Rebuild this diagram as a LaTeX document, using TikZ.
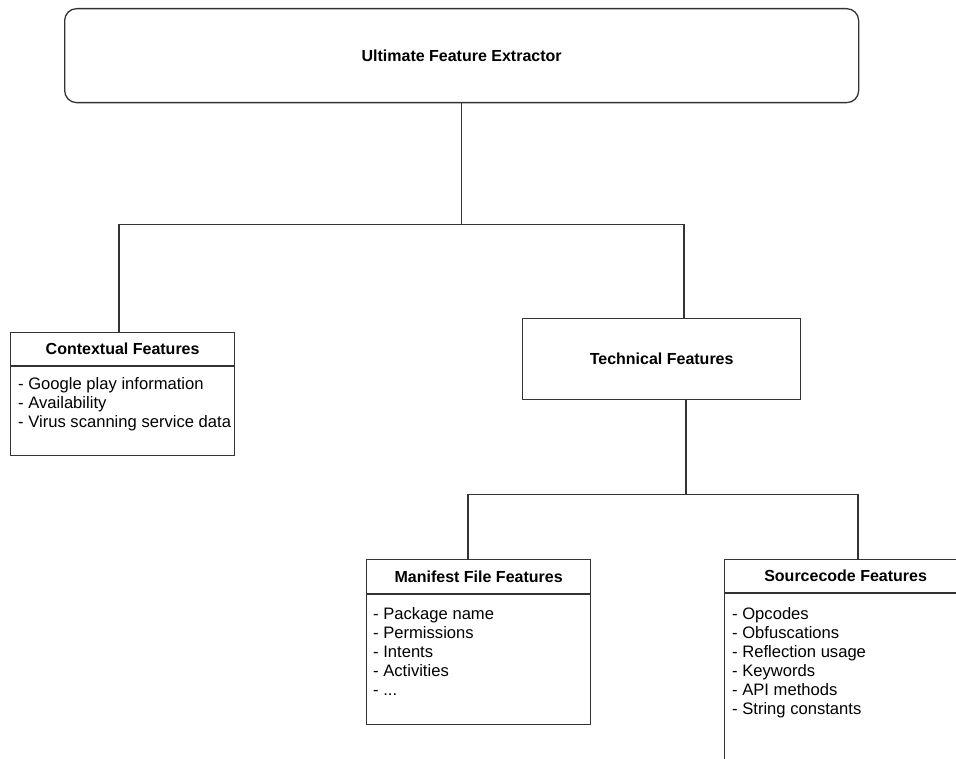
\documentclass[tikz,border=0pt]{standalone}
\usepackage{fontspec}
\setmainfont{Liberation Sans}
\usetikzlibrary{calc}
\tikzset{
  box/.style={draw=black!80, line width=1.3pt, fill=white, inner sep=0pt},
  conn/.style={draw=black!80, line width=1.3pt},
  title/.style={font=\fontsize{16pt}{19pt}\selectfont\bfseries, inner sep=0pt},
  items/.style={font=\fontsize{16.6pt}{19pt}\selectfont, align=left, inner sep=0pt, anchor=north west},
}
\begin{document}
\begin{tikzpicture}[x=1pt,y=1pt]
\useasboundingbox (0,0) rectangle (956,-759);
\clip (0,0) rectangle (956,-759);
\fill[white] (0,0) rectangle (956,-759);

% top box
\node[box, rounded corners=12pt, minimum width=794pt, minimum height=94pt, anchor=north west] (top) at (64,-8) {};
\node[title] (toptxt) at (top.center) {Ultimate Feature Extractor};

% contextual
\node[box, minimum width=224pt, minimum height=123pt, anchor=north west] (ctx) at (10,-332) {};
\draw[conn] ($(ctx.north west)+(0,-34)$) coordinate (ctxh1) -- ($(ctx.north east)+(0,-34)$) coordinate (ctxh2);
\node[title] (ctxt) at ($(ctx.north)+(0,-17)$) {Contextual Features};
\node[items] (ctxl) at (18,-377) {- Google play information\\- Availability\\- Virus scanning service data};

% technical
\node[box, minimum width=278pt, minimum height=81pt, anchor=north west] (tech) at (522,-318) {};
\node[title] (techt) at (tech.center) {Technical Features};

% manifest
\node[box, minimum width=224pt, minimum height=165pt, anchor=north west] (man) at (366,-559) {};
\draw[conn] ($(man.north west)+(0,-35)$) coordinate (manh1) -- ($(man.north east)+(0,-35)$) coordinate (manh2);
\node[title] (mant) at ($(man.north)+(0,-18)$) {Manifest File Features};
\node[items] (manl) at (373,-607) {- Package name\\- Permissions\\- Intents\\- Activities\\- ...};

% sourcecode
\node[box, minimum width=242pt, minimum height=240pt, anchor=north west] (src) at (724,-559) {};
\draw[conn] ($(src.north west)+(0,-34)$) coordinate (srch1) -- ($(src.north east)+(0,-34)$) coordinate (srch2);
\node[title] (srct) at ($(src.north)+(0,-17)$) {Sourcecode Features};
\node[items] (srcl) at (732,-607) {- Opcodes\\- Obfuscations\\- Reflection usage\\- Keywords\\- API methods\\- String constants};

% connectors level 1
\coordinate (j1) at ($(top.south)+(0,-121)$);
\coordinate (ctxin) at ($(ctx.north west)+(109,0)$);
\coordinate (techin) at ($(tech.north west)+(162,0)$);
\draw[conn] (top.south) -- (j1);
\draw[conn] (ctxin) |- (j1) -| (techin);

% connectors level 2
\coordinate (techout) at ($(tech.south west)+(164,0)$);
\coordinate (j2) at ($(techout)+(0,-94)$);
\coordinate (manin) at ($(man.north west)+(102,0)$);
\coordinate (srcin) at ($(src.north west)+(134,0)$);
\draw[conn] (techout) -- (j2);
\draw[conn] (manin) |- (j2) -| (srcin);
\end{tikzpicture}
\end{document}
